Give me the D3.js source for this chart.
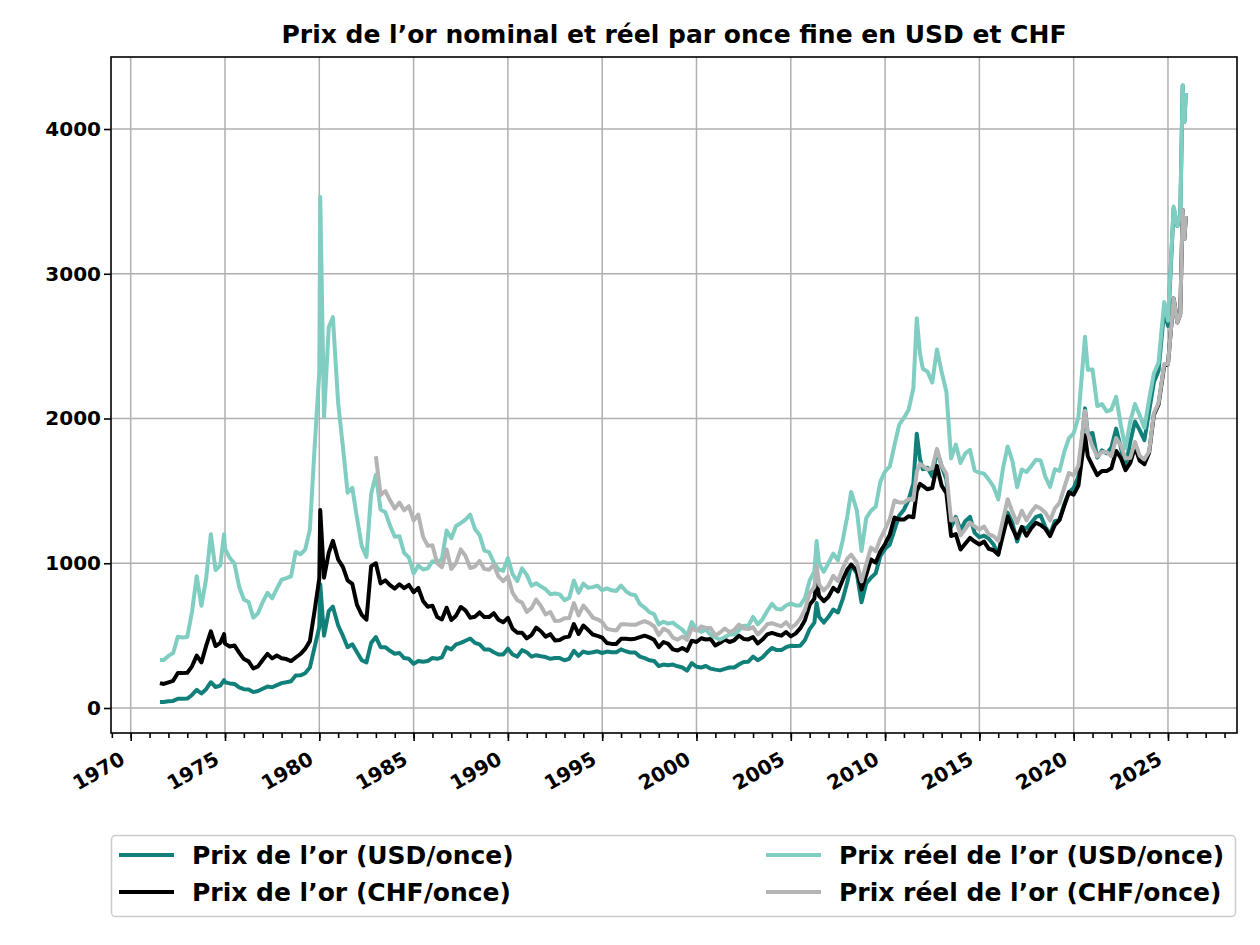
<!DOCTYPE html>
<html>
<head>
<meta charset="utf-8">
<script src="https://cdn.jsdelivr.net/npm/d3@7"></script>
<style>
    body { margin: 0; background: #fff; }
    svg text { font-family: "DejaVu Sans", sans-serif; font-weight: bold; }
</style>
</head>
<body>
<div id="chart"></div>
<script>
// Prix de l'or nominal et réel par once fine, USD et CHF
// Valeurs (environ trimestrielles, pics ajoutés)

const dates = [
    1971.55, 1971.75,
    1972, 1972.25, 1972.5, 1972.75,
    1973, 1973.25, 1973.5, 1973.75,
    1974, 1974.25, 1974.5, 1974.75, 1974.95,
    1975, 1975.25, 1975.5, 1975.75,
    1976, 1976.25, 1976.5, 1976.75,
    1977, 1977.25, 1977.5, 1977.75,
    1978, 1978.25, 1978.5, 1978.75,
    1979, 1979.25, 1979.5, 1979.75,
    1980, 1980.05, 1980.25, 1980.5, 1980.72,
    1981, 1981.25, 1981.5, 1981.75,
    1982, 1982.25, 1982.5, 1982.75,
    1983, 1983.25, 1983.5, 1983.75,
    1984, 1984.25, 1984.5, 1984.75,
    1985, 1985.25, 1985.5, 1985.75,
    1986, 1986.25, 1986.5, 1986.75,
    1987, 1987.25, 1987.5, 1987.75,
    1988, 1988.25, 1988.5, 1988.75,
    1989, 1989.25, 1989.5, 1989.75,
    1990, 1990.25, 1990.5, 1990.75,
    1991, 1991.25, 1991.5, 1991.75,
    1992, 1992.25, 1992.5, 1992.75,
    1993, 1993.25, 1993.5, 1993.75,
    1994, 1994.25, 1994.5, 1994.75,
    1995, 1995.25, 1995.5, 1995.75,
    1996, 1996.25, 1996.5, 1996.75,
    1997, 1997.25, 1997.5, 1997.75,
    1998, 1998.25, 1998.5, 1998.75,
    1999, 1999.25, 1999.5, 1999.75,
    2000, 2000.25, 2000.5, 2000.75,
    2001, 2001.25, 2001.5, 2001.75,
    2002, 2002.25, 2002.5, 2002.75,
    2003, 2003.25, 2003.5, 2003.75,
    2004, 2004.25, 2004.5, 2004.75,
    2005, 2005.25, 2005.5, 2005.75,
    2006, 2006.25, 2006.37, 2006.5, 2006.75,
    2007, 2007.25, 2007.5, 2007.75,
    2008, 2008.2, 2008.5, 2008.75,
    2009, 2009.25, 2009.5, 2009.75,
    2010, 2010.25, 2010.5, 2010.75,
    2011, 2011.25, 2011.5, 2011.68, 2011.85,
    2012, 2012.25, 2012.5, 2012.75,
    2013, 2013.25, 2013.5, 2013.75,
    2014, 2014.25, 2014.5, 2014.75,
    2015, 2015.25, 2015.5, 2015.75,
    2016, 2016.25, 2016.5, 2016.75,
    2017, 2017.25, 2017.5, 2017.75,
    2018, 2018.25, 2018.5, 2018.75,
    2019, 2019.25, 2019.5, 2019.75,
    2020, 2020.25, 2020.6, 2020.75,
    2021, 2021.25, 2021.5, 2021.75,
    2022, 2022.25, 2022.5, 2022.75,
    2023, 2023.25, 2023.5, 2023.75,
    2024, 2024.25, 2024.5, 2024.8,
    2025, 2025.3, 2025.5, 2025.65, 2025.78, 2025.87, 2025.95
];

// Prix de l'or (USD/once)
const usdNominal = [
    42, 42,
    46, 49, 64, 64,
    65, 90, 125, 100,
    130, 178, 145, 155, 193,
    178, 170, 166, 142,
    130, 128, 110, 117,
    133, 148, 143, 158,
    172, 178, 185, 225,
    226, 240, 280, 420,
    560, 855, 500, 670, 700,
    570, 500, 420, 440,
    385, 330, 315, 450,
    490, 420, 420, 395,
    375, 380, 345, 340,
    305, 325, 320, 325,
    345, 340, 350, 420,
    405, 440, 450, 465,
    480, 450, 440, 405,
    405, 385, 370, 370,
    410, 370, 355, 400,
    385, 355, 365, 358,
    352, 340, 345, 345,
    330, 340, 395, 360,
    390, 380, 385, 392,
    380, 390, 385, 385,
    405, 392, 383, 383,
    355, 345, 330, 325,
    290, 300, 295, 300,
    288, 280, 258, 310,
    285, 280, 290, 272,
    265, 260, 270, 280,
    280, 300, 318, 320,
    355, 330, 350, 385,
    415, 400, 400, 420,
    430, 428, 430, 470,
    545, 590, 725, 630, 590,
    630, 680, 660, 750,
    870, 990, 930, 730,
    860, 900, 930, 1050,
    1100, 1130, 1230, 1330,
    1370, 1440, 1550, 1895, 1720,
    1650, 1660, 1600, 1780,
    1670, 1580, 1250, 1320,
    1230, 1290, 1320, 1210,
    1180, 1190, 1170, 1130,
    1060, 1230, 1350, 1280,
    1150, 1250, 1240, 1280,
    1320, 1330, 1250, 1200,
    1290, 1300, 1410, 1490,
    1520, 1600, 2070, 1890,
    1900, 1730, 1780, 1760,
    1800, 1930, 1800, 1660,
    1840, 1980, 1920, 1850,
    2050, 2250, 2330, 2750,
    2640, 3450, 3330, 3400, 4300, 4050, 4250
];

// Prix de l'or (CHF/once)
const chfNominal = [
    172, 166,
    177, 188, 242, 241,
    244, 288, 362, 315,
    429, 530, 428, 450, 510,
    445, 425, 432, 383,
    338, 322, 273, 288,
    332, 374, 343, 363,
    344, 338, 324, 349,
    373, 408, 462, 672,
    896, 1368, 900, 1072, 1155,
    1026, 975, 882, 858,
    712, 644, 610, 980,
    1000, 861, 882, 849,
    825, 855, 828, 850,
    800, 830, 740, 700,
    707, 629, 612, 693,
    608, 638, 698, 674,
    624, 630, 660, 628,
    628, 655, 610, 592,
    623, 548, 520, 520,
    481, 504, 555, 530,
    493, 510, 466, 470,
    488, 493, 580, 511,
    570, 540, 508, 498,
    486, 449, 443, 443,
    478, 478, 475, 479,
    490, 500, 488, 471,
    420, 456, 443, 405,
    397, 414, 395, 465,
    456, 482, 473, 476,
    432, 450, 473, 456,
    468, 501, 477, 474,
    490, 446, 473, 508,
    519, 508, 500, 525,
    495, 514, 550, 606,
    714, 755, 885, 775, 738,
    769, 830, 805, 885,
    957, 990, 949, 818,
    920, 1026, 1004, 1082,
    1133, 1198, 1316, 1303,
    1302, 1325, 1318, 1497, 1548,
    1535, 1511, 1520, 1673,
    1536, 1485, 1188, 1201,
    1095, 1135, 1175, 1150,
    1130, 1150, 1100, 1090,
    1060, 1193, 1323, 1242,
    1173, 1250, 1190, 1242,
    1280, 1264, 1238, 1188,
    1264, 1300, 1396, 1490,
    1474, 1536, 1884, 1739,
    1672, 1609, 1638, 1637,
    1656, 1776, 1728, 1643,
    1693, 1802, 1709, 1684,
    1763, 2025, 2097, 2365,
    2376, 2830, 2664, 2720, 3440, 3240, 3400
];

// Prix réel de l'or (USD/once)
const usdReal = [
    332, 331,
    360, 380, 492, 487,
    491, 665, 911, 706,
    894, 1200, 953, 986, 1200,
    1100, 1037, 998, 838,
    750, 733, 624, 654,
    732, 796, 758, 825,
    886, 897, 910, 1080,
    1062, 1094, 1232, 1798,
    2318, 3530, 2010, 2630, 2700,
    2105, 1807, 1488, 1520,
    1313, 1119, 1044, 1480,
    1612, 1372, 1353, 1260,
    1184, 1186, 1071, 1040,
    930, 984, 957, 965,
    1014, 1006, 1029, 1226,
    1173, 1257, 1277, 1302,
    1336, 1237, 1196, 1088,
    1077, 1007, 958, 948,
    1036, 924, 877, 965,
    920, 845, 862, 840,
    820, 786, 791, 785,
    745, 761, 881, 796,
    859, 830, 835, 845,
    814, 827, 813, 809,
    845, 808, 786, 779,
    718, 694, 662, 648,
    578, 596, 583, 590,
    564, 542, 498, 593,
    544, 526, 542, 504,
    487, 473, 490, 508,
    507, 537, 569, 569,
    629, 578, 613, 670,
    720, 685, 680, 708,
    723, 709, 709, 760,
    881, 943, 1153, 997, 941,
    1002, 1066, 1020, 1156,
    1328, 1493, 1367, 1085,
    1312, 1362, 1390, 1564,
    1635, 1669, 1817, 1958,
    2004, 2062, 2209, 2693, 2448,
    2344, 2324, 2249, 2477,
    2321, 2185, 1724, 1820,
    1693, 1758, 1784, 1641,
    1626, 1619, 1578, 1530,
    1441, 1655, 1807, 1707,
    1525, 1648, 1631, 1671,
    1715, 1710, 1597, 1528,
    1650, 1638, 1769, 1865,
    1898, 2009, 2565, 2337,
    2339, 2086, 2100, 2049,
    2062, 2150, 1956, 1794,
    1980, 2101, 2022, 1936,
    2131, 2311, 2386, 2805,
    2676, 3464, 3330, 3400, 4300, 4050, 4250
];

// Prix réel de l'or (CHF/once) : la série commence en 1983
const chfRealStart = 1983;
const chfReal = [
    1740, 1472, 1499, 1435,
    1378, 1419, 1366, 1394,
    1296, 1336, 1184, 1120,
    1124, 1000, 973, 1095,
    961, 1002, 1096, 1051,
    967, 977, 1016, 961,
    955, 989, 909, 876,
    910, 795, 745, 728,
    664, 690, 749, 705,
    646, 663, 601, 602,
    620, 621, 725, 639,
    707, 670, 625, 613,
    593, 548, 540, 536,
    578, 578, 575, 575,
    588, 600, 586, 565,
    504, 547, 532, 486,
    472, 493, 470, 549,
    534, 564, 553, 552,
    501, 522, 549, 524,
    538, 576, 549, 545,
    559, 508, 539, 579,
    586, 574, 565, 593,
    554, 576, 616, 679,
    793, 838, 982, 853, 812,
    846, 913, 877, 965,
    1034, 1059, 1006, 875,
    994, 1108, 1084, 1169,
    1235, 1306, 1434, 1420,
    1419, 1444, 1437, 1632, 1687,
    1673, 1647, 1657, 1790,
    1674, 1619, 1295, 1309,
    1194, 1237, 1281, 1254,
    1232, 1254, 1199, 1188,
    1155, 1300, 1442, 1354,
    1279, 1363, 1297, 1354,
    1395, 1378, 1349, 1295,
    1378, 1417, 1522, 1624,
    1607, 1674, 2054, 1896,
    1806, 1738, 1769, 1768,
    1739, 1865, 1814, 1725,
    1727, 1838, 1743, 1718,
    1772, 2035, 2107, 2377,
    2376, 2830, 2664, 2720, 3440, 3240, 3400
];

const majorYears = [1970, 1975, 1980, 1985, 1990, 1995, 2000, 2005, 2010, 2015, 2020, 2025];
const minorYears = d3.range(1969, 2029);
const yTicks = [0, 1000, 2000, 3000, 4000];

const seriesList = [
    { name: 'Prix de l’or (USD/once)', color: '#12807a', values: usdNominal, start: dates[0] },
    { name: 'Prix de l’or (CHF/once)', color: '#000000', values: chfNominal, start: dates[0] },
    { name: 'Prix réel de l’or (USD/once)', color: '#80cdc1', values: usdReal, start: dates[0] },
    { name: 'Prix réel de l’or (CHF/once)', color: '#b4b4b4', values: chfReal, start: chfRealStart }
];

const W = 1260, H = 945;
const plot = { left: 111, right: 1237, top: 57, bottom: 733 };

const svg = d3.select('#chart').append('svg')
    .attr('width', W)
    .attr('height', H);

const x = d3.scaleLinear()
    .domain([1968.955, 2028.66])
    .range([plot.left, plot.right]);

const y = d3.scaleLinear()
    .domain([-172.7, 4497.6])
    .range([plot.bottom, plot.top]);

// Title
svg.append('text')
    .attr('x', (plot.left + plot.right) / 2)
    .attr('y', 43)
    .attr('text-anchor', 'middle')
    .style('font-size', '25px')
    .text('Prix de l’or nominal et réel par once fine en USD et CHF');

// Grid
const grid = svg.append('g').attr('class', 'grid');
grid.selectAll('.vgrid')
    .data(majorYears)
    .enter()
    .append('line')
    .attr('x1', d => x(d)).attr('x2', d => x(d))
    .attr('y1', plot.top).attr('y2', plot.bottom)
    .attr('stroke', '#b0b0b0')
    .attr('stroke-width', 1.5);
grid.selectAll('.hgrid')
    .data(yTicks)
    .enter()
    .append('line')
    .attr('x1', plot.left).attr('x2', plot.right)
    .attr('y1', d => y(d)).attr('y2', d => y(d))
    .attr('stroke', '#b0b0b0')
    .attr('stroke-width', 1.5);

// Lines
svg.append('clipPath')
    .attr('id', 'plot-clip')
    .append('rect')
    .attr('x', plot.left).attr('y', plot.top)
    .attr('width', plot.right - plot.left)
    .attr('height', plot.bottom - plot.top);

const line = d3.line()
    .x(d => x(d[0]))
    .y(d => y(d[1]));

const linesG = svg.append('g').attr('clip-path', 'url(#plot-clip)');
seriesList.forEach(s => {
    const offset = dates.indexOf(s.start);
    const pts = s.values.map((v, i) => [dates[offset + i], v]);
    linesG.append('path')
        .datum(pts)
        .attr('fill', 'none')
        .attr('stroke', s.color)
        .attr('stroke-width', 4)
        .attr('stroke-linejoin', 'round')
        .attr('d', line);
});

// Frame
svg.append('rect')
    .attr('x', plot.left).attr('y', plot.top)
    .attr('width', plot.right - plot.left)
    .attr('height', plot.bottom - plot.top)
    .attr('fill', 'none')
    .attr('stroke', '#000')
    .attr('stroke-width', 1.6);

// X axis (minor ticks)
const xMinor = svg.append('g')
    .attr('transform', `translate(0,${plot.bottom})`)
    .call(d3.axisBottom(x).tickValues(minorYears).tickSize(5).tickFormat(''));
xMinor.select('.domain').remove();
xMinor.selectAll('line').attr('stroke-width', 1.6);

// X axis (major ticks), labels rotated 30 degrees
const xMajor = svg.append('g')
    .attr('transform', `translate(0,${plot.bottom})`)
    .call(d3.axisBottom(x).tickValues(majorYears).tickSize(8).tickFormat(d => d));
xMajor.select('.domain').remove();
xMajor.selectAll('line').attr('stroke-width', 1.6);
xMajor.selectAll('text')
    .attr('x', 0)
    .attr('y', 0)
    .attr('dy', null)
    .attr('text-anchor', 'end')
    .attr('transform', 'translate(-5,30) rotate(-30)')
    .style('font-size', '20px')
    .style('fill', '#000');

// Y axis
const yAxis = svg.append('g')
    .attr('transform', `translate(${plot.left},0)`)
    .call(d3.axisLeft(y).tickValues(yTicks).tickSize(7).tickPadding(3).tickFormat(d => d));
yAxis.select('.domain').remove();
yAxis.selectAll('line').attr('stroke-width', 1.6);
yAxis.selectAll('text')
    .style('font-size', '20px')
    .style('fill', '#000');

// Legend
const legend = svg.append('g').attr('class', 'legend');
legend.append('rect')
    .attr('x', 111.5).attr('y', 835.5)
    .attr('width', 1124).attr('height', 81)
    .attr('rx', 4)
    .attr('fill', '#fff')
    .attr('stroke', '#cccccc')
    .attr('stroke-width', 1.5);

const legendPos = [
    { lx: 119, ty: 855 },
    { lx: 119, ty: 892 },
    { lx: 766, ty: 855 },
    { lx: 766, ty: 892 }
];

seriesList.forEach((s, i) => {
    const p = legendPos[i];
    legend.append('line')
        .attr('x1', p.lx).attr('x2', p.lx + 55)
        .attr('y1', p.ty).attr('y2', p.ty)
        .attr('stroke', s.color)
        .attr('stroke-width', 4.2);
    legend.append('text')
        .attr('x', p.lx + 73)
        .attr('y', p.ty + 9)
        .style('font-size', '25px')
        .text(s.name);
});
</script>
</body>
</html>
